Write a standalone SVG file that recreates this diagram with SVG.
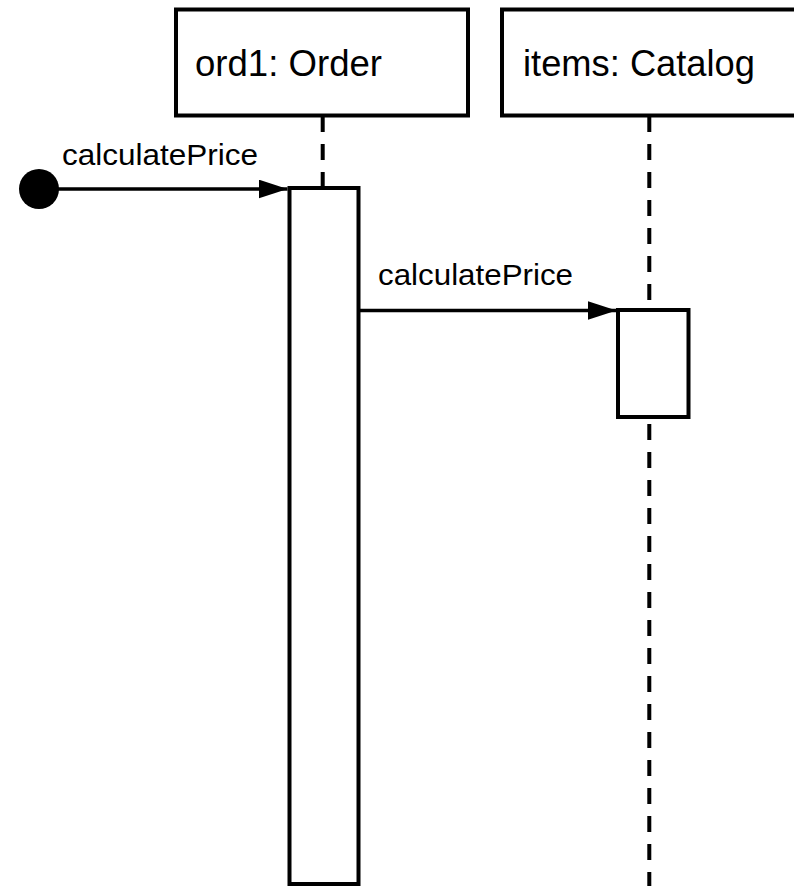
<svg xmlns="http://www.w3.org/2000/svg" width="794" height="886" viewBox="0 0 794 886">
<defs>
<style>
.box{fill:#fff;stroke:#000;stroke-width:4}
.life{stroke:#000;stroke-width:4;stroke-dasharray:16 12;fill:none}
.msg{stroke:#000;stroke-width:3.5;fill:none}
.title{font-family:"Liberation Sans",Arial,sans-serif;font-size:36px;fill:#000}
.lbl{font-family:"Liberation Sans",Arial,sans-serif;font-size:29px;fill:#000}
</style>
<marker id="arr" markerUnits="userSpaceOnUse" markerWidth="32" markerHeight="22" refX="29" refY="9.5" orient="auto">
<path d="M0,0 L29,9.5 L0,19 z" fill="#000"/>
</marker>
</defs>
<rect width="794" height="886" fill="#fff"/>
<g id="lifelines">
<line class="life" x1="322.7" y1="116" x2="322.7" y2="188"/>
<line class="life" x1="649.3" y1="116" x2="649.3" y2="886"/>
</g>
<g id="ord1">
<rect class="box" x="176" y="9.5" width="292" height="106"/>
<text class="title" x="195" y="76" textLength="187" lengthAdjust="spacingAndGlyphs">ord1: Order</text>
</g>
<g id="items">
<rect class="box" x="502" y="9.5" width="310" height="106"/>
<text class="title" x="523" y="76" textLength="232" lengthAdjust="spacingAndGlyphs">items: Catalog</text>
</g>
<g id="start">
<circle cx="39" cy="189" r="20" fill="#000"/>
</g>
<g id="act1">
<rect class="box" x="289.5" y="188" width="69" height="696"/>
</g>
<g id="act2">
<rect class="box" x="618" y="310" width="70.5" height="107"/>
</g>
<g id="connectors">
<line class="msg" x1="39" y1="189" x2="287.5" y2="189" marker-end="url(#arr)"/>
<text class="lbl" x="62" y="164.5" textLength="196" lengthAdjust="spacingAndGlyphs">calculatePrice</text>
<line class="msg" x1="358" y1="310.5" x2="616.5" y2="310.5" marker-end="url(#arr)"/>
<text class="lbl" x="378" y="284.5" textLength="195" lengthAdjust="spacingAndGlyphs">calculatePrice</text>
</g>
</svg>
